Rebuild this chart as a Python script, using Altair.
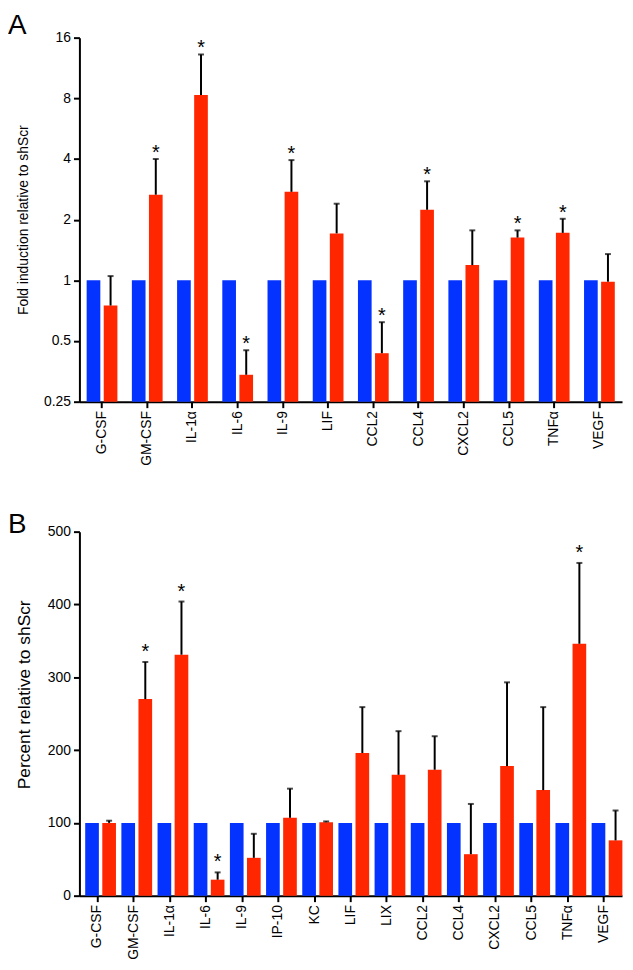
import altair as alt
import pandas as pd

groups = ["shScr", "shKD"]
colors = ["#0433FF", "#FF2600"]

# Panel A (log2 scale)
cats_a = ["G-CSF", "GM-CSF", "IL-1α", "IL-6", "IL-9", "LIF", "CCL2", "CCL4", "CXCL2", "CCL5", "TNFα", "VEGF"]
ctrl_a = [1, 1, 1, 1, 1, 1, 1, 1, 1, 1, 1, 1]
kd_a = [0.75, 2.66, 8.3, 0.34, 2.75, 1.71, 0.435, 2.24, 1.19, 1.63, 1.72, 0.985]
err_a = [1.05, 4.0, 13.2, 0.45, 3.95, 2.4, 0.62, 3.1, 1.77, 1.77, 2.02, 1.35]
sig_a = [0, 1, 1, 1, 1, 0, 1, 1, 0, 1, 1, 0]
ticks_a = [0.25, 0.5, 1, 2, 4, 8, 16]

# Panel B (linear percent)
cats_b = ["G-CSF", "GM-CSF", "IL-1α", "IL-6", "IL-9", "IP-10", "KC", "LIF", "LIX", "CCL2", "CCL4", "CXCL2", "CCL5", "TNFα", "VEGF"]
ctrl_b = [100, 100, 100, 100, 100, 100, 100, 100, 100, 100, 100, 100, 100, 100, 100]
kd_b = [100, 270, 331, 22, 52, 107, 101, 196, 166, 173, 57, 178, 145, 346, 76]
err_b = [103, 321, 404, 32, 85, 147, 102, 259, 226, 219, 126, 293, 259, 457, 117]
sig_b = [0, 1, 1, 1, 0, 0, 0, 0, 0, 0, 0, 0, 0, 1, 0]
ticks_b = [0, 100, 200, 300, 400, 500]


def long_table(cats, ctrl, kd, err, sig):
    rows = []
    for i, c in enumerate(cats):
        rows.append(dict(cat=c, group="shScr", value=ctrl[i], err=ctrl[i], sig=0))
        rows.append(dict(cat=c, group="shKD", value=kd[i], err=err[i], sig=sig[i]))
    return pd.DataFrame(rows)


FONT = "Liberation Sans"


def panel(df, cats, yscale, yaxis, baseline, star_dy, letter, title_dy, sub_pad):
    x = alt.X("cat:N", sort=cats,
              scale=alt.Scale(paddingInner=0.32, paddingOuter=0.16),
              axis=alt.Axis(title=None, labelAngle=270, labelPadding=3, labelFontSize=14))
    xo = alt.XOffset("group:N", sort=groups,
                     scale=alt.Scale(domain=groups, paddingInner=sub_pad, paddingOuter=0))
    y = alt.Y("value:Q", scale=yscale, axis=yaxis)
    base = alt.Chart(df)
    bars = base.mark_bar().encode(
        x=x, xOffset=xo, y=y, y2=alt.datum(baseline),
        color=alt.Color("group:N", scale=alt.Scale(domain=groups, range=colors), legend=None),
    )
    kd = base.transform_filter(alt.datum.group == "shKD")
    rule = kd.mark_rule(color="black", strokeWidth=2).encode(
        x=x, xOffset=xo, y=y, y2="err:Q")
    cap = kd.mark_tick(color="black", thickness=2, size=6).encode(
        x=x, xOffset=xo, y=alt.Y("err:Q", scale=yscale, axis=yaxis))
    star = kd.transform_filter(alt.datum.sig == 1).mark_text(
        text="*", fontSize=20, baseline="alphabetic", dy=star_dy, color="black", font=FONT
    ).encode(x=x, xOffset=xo, y=alt.Y("err:Q", scale=yscale, axis=yaxis))
    return alt.layer(bars, rule, cap, star).properties(
        width=547, height=367,
        title=alt.TitleParams(letter, anchor="start", frame="group", dx=-72, dy=title_dy,
                              offset=2, fontSize=28, fontWeight="normal", font=FONT, color="black"),
    )


panel_a = panel(
    long_table(cats_a, ctrl_a, kd_a, err_a, sig_a),
    cats_a,
    alt.Scale(type="log", base=2, domain=[0.25, 16], nice=False),
    alt.Axis(values=ticks_a, format="~g", title="Fold induction relative to shScr",
             titleFontSize=14, titlePadding=13, labelFlush=False),
    0.25, 0, "A", 11, 0.2,
)

panel_b = panel(
    long_table(cats_b, ctrl_b, kd_b, err_b, sig_b),
    cats_b,
    alt.Scale(domain=[0, 500], nice=False),
    alt.Axis(values=ticks_b, format="d", title="Percent relative to shScr",
             titleFontSize=17.5, titlePadding=14, titleY=164, labelFlush=False),
    0, -4, "B", 16, 0.1,
)

chart = alt.vconcat(panel_a, panel_b, spacing=45).properties(
    padding={"left": 0, "top": 0, "right": 2, "bottom": 2}
).configure_view(stroke=None).configure_axis(
    domainColor="black", domainWidth=2, tickColor="black", tickWidth=2, tickSize=6,
    labelColor="black", labelFont=FONT, titleFont=FONT, labelFontSize=14,
    grid=False, titleFontWeight="normal", titleColor="black", labelPadding=3,
)

chart.save("out.html", embed_options={"renderer": "svg", "actions": False})
